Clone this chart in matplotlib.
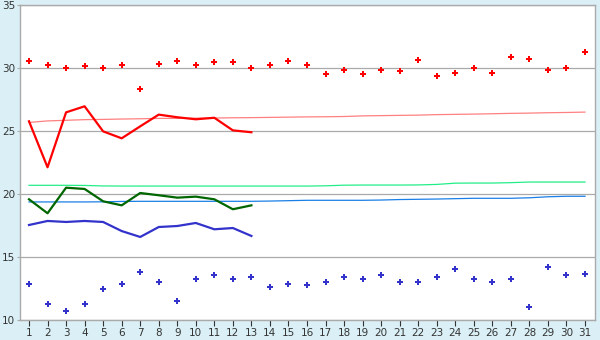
import numpy as np
import matplotlib
matplotlib.use("Agg")
import matplotlib.pyplot as plt

days = list(range(1, 32))

# daily extremes (markers)
day_max = [30.53, 30.21, 30.0, 30.13, 30.0, 30.21, 28.31, 30.29, 30.53, 30.21,
           30.45, 30.45, 30.0, 30.21, 30.53, 30.21, 29.5, 29.81, 29.5, 29.81,
           29.74, 30.6, 29.34, 29.58, 30.0, 29.58, 30.85, 30.69, 29.81, 30.0, 31.24]
day_min = [12.83, 11.24, 10.69, 11.24, 12.43, 12.83, 13.78, 12.99, 11.48, 13.23,
           13.55, 13.23, 13.39, 12.59, 12.83, 12.75, 12.99, 13.39, 13.23, 13.55,
           12.99, 12.99, 13.39, 14.02, 13.23, 12.99, 13.23, 11.01, 14.18, 13.55, 13.63]

# current month, days 1-13
cur_days = list(range(1, 14))
cur_max = [25.77, 22.12, 26.48, 26.96, 24.97, 24.42, 25.37, 26.3, 26.09, 25.93, 26.05, 25.05, 24.9]
cur_avg = [19.58, 18.47, 20.5, 20.4, 19.42, 19.1, 20.08, 19.9, 19.71, 19.79, 19.58, 18.79, 19.1]
cur_min = [17.54, 17.86, 17.78, 17.86, 17.78, 17.06, 16.59, 17.38, 17.46, 17.7, 17.2, 17.3, 16.67]

# normals
norm_max = [25.68, 25.8, 25.85, 25.9, 25.92, 25.95, 25.97, 26.0, 26.0, 26.02,
            26.03, 26.05, 26.06, 26.08, 26.1, 26.12, 26.13, 26.15, 26.2, 26.22,
            26.24, 26.26, 26.3, 26.32, 26.34, 26.37, 26.4, 26.42, 26.45, 26.47, 26.5]
norm_avg = [20.69, 20.69, 20.69, 20.68, 20.64, 20.63, 20.63, 20.63, 20.63, 20.63,
            20.63, 20.63, 20.63, 20.63, 20.63, 20.63, 20.65, 20.7, 20.71, 20.71,
            20.71, 20.72, 20.76, 20.86, 20.87, 20.87, 20.9, 20.95, 20.95, 20.95, 20.95]
norm_min = [19.37, 19.37, 19.37, 19.37, 19.38, 19.41, 19.42, 19.42, 19.42, 19.42,
            19.42, 19.42, 19.42, 19.44, 19.47, 19.5, 19.5, 19.5, 19.5, 19.52,
            19.56, 19.58, 19.6, 19.63, 19.66, 19.66, 19.66, 19.7, 19.78, 19.82, 19.82]

bg = "#daf0f6"
grid_c = "#aaaaaa"

fig = plt.figure(figsize=(6, 3.4), dpi=100, facecolor=bg)
ax = fig.add_axes([20 / 600, 1 - 320 / 340, 575 / 600, 315 / 340])
ax.set_facecolor("white")

# normals first so they sit under the current lines
ax.plot(days, norm_max, color="#ff8080", lw=0.9)
ax.plot(days, norm_avg, color="#22ee88", lw=0.9)
ax.plot(days, norm_min, color="#1a7fe6", lw=0.9)

ax.plot(cur_days, cur_max, color="#ff0000", lw=1.6)
ax.plot(cur_days, cur_avg, color="#006600", lw=1.6)
ax.plot(cur_days, cur_min, color="#3333cc", lw=1.6)

ax.plot(days, day_max, ls="none", marker="P", ms=4.5, color="#ff0000", mew=0)
ax.plot(days, day_min, ls="none", marker="P", ms=4.5, color="#3333cc", mew=0)

ax.set_xlim(0.514, 31.54)
ax.set_ylim(10, 35)
ax.set_xticks(days)
ax.set_yticks([10, 15, 20, 25, 30, 35])
ax.yaxis.grid(True, color=grid_c, lw=0.9)
ax.set_axisbelow(True)
for s in ax.spines.values():
    s.set_color(grid_c)
    s.set_linewidth(1.0)
ax.tick_params(axis="both", labelsize=7.5, colors="#333333", width=0.8)
ax.tick_params(axis="x", length=4, pad=2)
ax.tick_params(axis="y", color=grid_c, length=2, pad=1.5)

fig.savefig("out.png", dpi=100, facecolor=bg)
